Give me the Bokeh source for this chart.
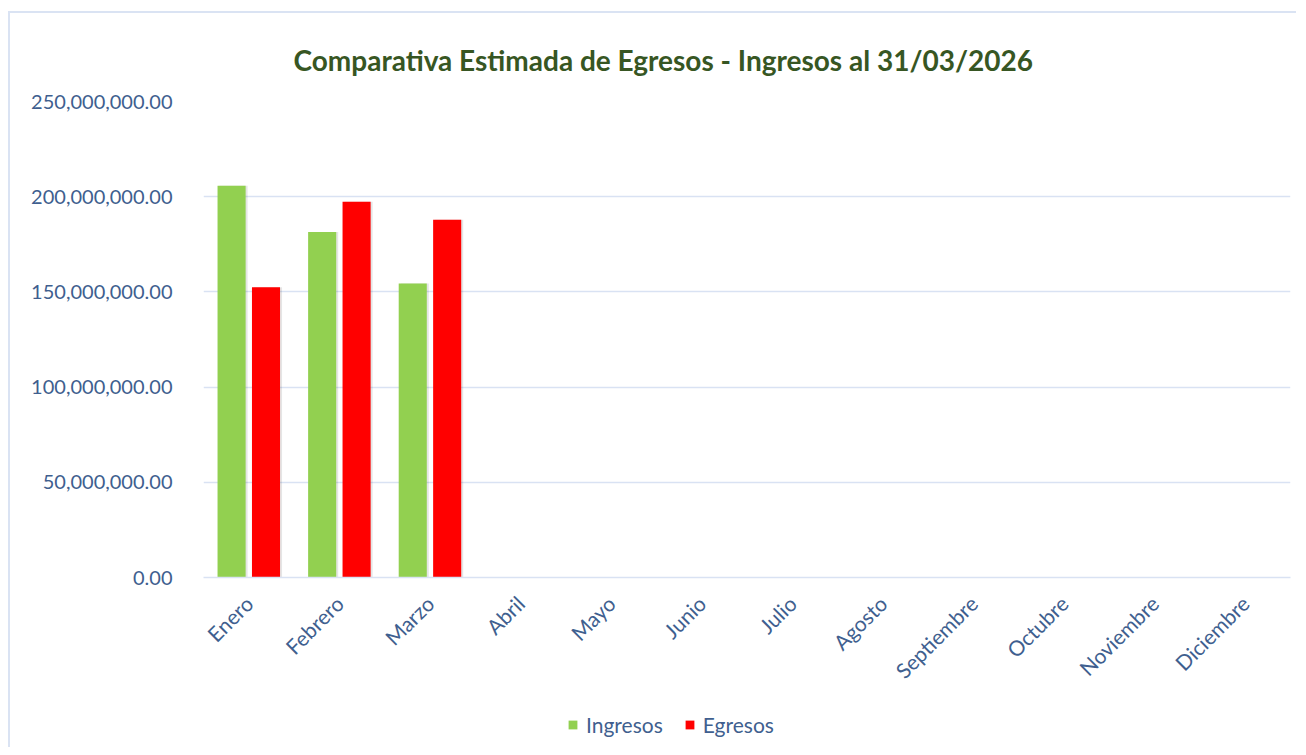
from bokeh.plotting import figure
from bokeh.layouts import column
from bokeh.models import (ColumnDataSource, FactorRange, NumeralTickFormatter, Legend,
                          LegendItem, FixedTicker, Range1d)
from bokeh.transform import dodge
from bokeh.embed import file_html
from bokeh.resources import INLINE
import math

months = ["Enero", "Febrero", "Marzo", "Abril", "Mayo", "Junio", "Julio",
          "Agosto", "Septiembre", "Octubre", "Noviembre", "Diciembre"]
ingresos = [205.7e6, 181.4e6, 154.4e6, 0, 0, 0, 0, 0, 0, 0, 0, 0]
egresos = [152.5e6, 197.3e6, 187.9e6, 0, 0, 0, 0, 0, 0, 0, 0, 0]
y_ticks = [0, 50e6, 100e6, 150e6, 200e6, 250e6]
series_names = ["Ingresos", "Egresos"]

src = ColumnDataSource(dict(month=months, ingresos=ingresos, egresos=egresos))

FONT = "Lato"
BLUE = "#3F5F8F"
GRID = "#D9E2F3"
GREEN = "#92D050"
RED = "#FF0000"

p = figure(x_range=FactorRange(*months, range_padding=0), y_range=(0, 250e6),
           frame_width=1087, frame_height=476, output_backend="svg", toolbar_location=None,
           min_border_left=193, min_border_right=6, min_border_top=88, min_border_bottom=125)

p.title.text = "Comparativa Estimada de Egresos - Ingresos al 31/03/2026"
p.title.align = "left"
p.title.offset = 90
p.title.text_font = FONT
p.title.text_font_size = "28px"
p.title.text_font_style = "bold"
p.title.text_color = "#375623"
p.title.standoff = 50

# soft shadows behind the bars
p.vbar(x=dodge("month", -0.19 + 0.022, range=p.x_range), top="ingresos", width=0.31,
       source=src, fill_color="#000000", fill_alpha=0.10, line_color=None)
p.vbar(x=dodge("month", 0.19 + 0.022, range=p.x_range), top="egresos", width=0.31,
       source=src, fill_color="#000000", fill_alpha=0.10, line_color=None)

p.vbar(x=dodge("month", -0.19, range=p.x_range), top="ingresos", width=0.31,
       source=src, fill_color=GREEN, line_color=None)
p.vbar(x=dodge("month", 0.19, range=p.x_range), top="egresos", width=0.31,
       source=src, fill_color=RED, line_color=None)

p.yaxis.ticker = FixedTicker(ticks=y_ticks)
p.yaxis.formatter = NumeralTickFormatter(format="0,0.00")
p.yaxis.axis_line_color = None
p.yaxis.major_tick_line_color = None
p.yaxis.minor_tick_line_color = None
p.yaxis.major_tick_out = 0
p.yaxis.major_label_text_font = FONT
p.yaxis.major_label_text_font_size = "20px"
p.yaxis.major_label_text_color = BLUE
p.yaxis.major_label_standoff = 31

p.xaxis.axis_line_color = GRID
p.xaxis.axis_line_width = 1.5
p.xaxis.major_tick_line_color = None
p.xaxis.minor_tick_line_color = None
p.xaxis.major_tick_out = 0
p.xaxis.major_label_orientation = math.pi / 4
p.xaxis.major_label_text_font = FONT
p.xaxis.major_label_text_font_size = "21px"
p.xaxis.major_label_text_color = BLUE
p.xaxis.major_label_standoff = 22

p.xgrid.grid_line_color = None
p.ygrid.grid_line_color = GRID
p.ygrid.grid_line_width = 1.5
p.outline_line_color = None

# legend strip below the chart (frame aligned with the chart's frame)
lf = figure(width=1286, height=45, x_range=Range1d(0, 1), y_range=Range1d(0, 1),
            output_backend="svg", toolbar_location=None,
            x_axis_location=None, y_axis_location=None,
            min_border=0, outline_line_color=None)
lf.grid.visible = False
keys = ColumnDataSource(dict(x=[-50.0], top=[-50.0], bottom=[-50.0]))
g1 = lf.vbar(x="x", top="top", bottom="bottom", width=0.1, source=keys,
             fill_color=GREEN, line_color=None)
g2 = lf.vbar(x="x", top="top", bottom="bottom", width=0.1, source=keys,
             fill_color=RED, line_color=None)
legend = Legend(items=[LegendItem(label=series_names[0], renderers=[g1]),
                       LegendItem(label=series_names[1], renderers=[g2])],
                orientation="horizontal", location=(364, 10),
                label_text_font=FONT, label_text_font_size="21px", label_text_color=BLUE,
                glyph_width=11, glyph_height=11, spacing=21, label_standoff=8,
                border_line_color=None, background_fill_alpha=0, margin=0, padding=0)
lf.add_layout(legend, "center")

layout = column(p, lf, spacing=0)
layout.styles = {"border-top": "2px solid #DAE3F3", "border-left": "2px solid #DAE3F3",
                 "border-right": "0px none white", "border-bottom": "0px none white",
                 "margin-top": "11px", "margin-left": "8px"}

open("out.html", "w").write(file_html(layout, INLINE))
